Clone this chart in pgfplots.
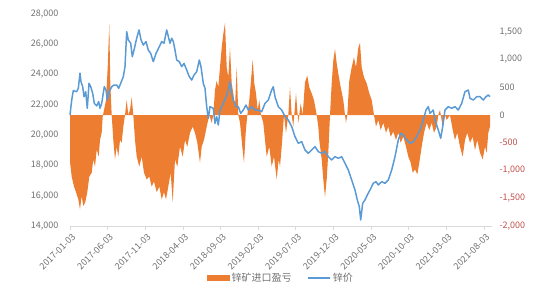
\documentclass[border=0pt]{standalone}
\usepackage{pgfplots}
\pgfplotsset{compat=1.18}
\usepackage{fontspec}
\setmainfont{Noto Sans CJK SC}
\definecolor{zorange}{HTML}{ED7D31}
\definecolor{zblue}{HTML}{5B9BD5}
\definecolor{tickgray}{HTML}{707070}
\definecolor{negred}{HTML}{C0504D}
\definecolor{axgray}{HTML}{D9D9D9}
\begin{document}
\begin{tikzpicture}[x=1pt,y=1pt]
\useasboundingbox (-70,-74) rectangle (480,226);
% right axis: import profit / loss (orange area)
\begin{axis}[at={(0,0)}, anchor=south west, scale only axis,
  width=422pt, height=212pt,
  xmin=0, xmax=422, ymin=-2000, ymax=1820,
  axis x line=none, axis y line*=right,
  y axis line style={draw=none},
  major tick length=0pt,
  ytick={-2000,-1500,-1000,-500,0,500,1000,1500},
  yticklabels={{\textcolor{negred}{-2,000}},{\textcolor{negred}{-1,500}},{\textcolor{negred}{-1,000}},{\textcolor{negred}{-500}},0,500,{1,000},{1,500}},
  yticklabel style={font=\fontsize{9}{10}\selectfont, text=tickgray, anchor=west, xshift=4pt},
  clip=false]
\addplot[fill=zorange, draw=none] coordinates {
(0,0) (0.1,-860) (1.7,-1110) (4,-1290) (6,-1390) (8.3,-1520) (10,-1700) (11.7,-1460)
(13.3,-1640) (15.3,-1570) (17.3,-1390) (19.3,-1110) (21.7,-1040) (23.3,-800) (25,-930)
(26.7,-625) (28.7,-750) (30,-450) (31.7,-320) (32.7,-30) (34,90) (36,270) (37.7,860)
(39.3,1640) (40.3,570) (41.7,0) (43.3,-450) (45,-800) (46.7,-570) (48.3,-750) (50,-450)
(51.7,-500) (53.3,-210) (55,0) (56.7,270) (58.3,0) (60,90) (61.7,320) (63.3,0) (65,-450)
(66.7,-750) (69.3,-930) (71.7,-750) (74,-1040) (76.7,-1160) (79.3,-1110) (81.7,-1290)
(84,-1200) (86.7,-1390) (89.3,-1290) (91.7,-1520) (94,-1390) (96,-1520) (98.3,-1290)
(100.7,-1040) (102.7,-1570) (105,-800) (107.3,-930) (110,-570) (112.7,-750) (115,-450)
(117.3,-570) (120,-320) (122.7,-210) (125,-320) (127.3,-500) (130,-860) (131.7,-570)
(134,-450) (136.7,-210) (139.3,0) (141.7,-140) (143.3,0) (145,450) (146.7,620) (148.3,500)
(150,860) (151.7,1210) (153.3,1460) (155,1660) (156.7,860) (158.3,680) (160,1210)
(161.7,570) (163.3,390) (165,140) (166.7,860) (168.3,0) (170,-140) (172.3,-570) (174,-860)
(175.7,-320) (177.3,0) (179.3,270) (181,620) (182.7,1000) (184.3,570) (186,390) (187.7,90)
(189.3,270) (191,0) (193.3,-140) (195,-450) (196.7,-750) (199.3,-570) (201.7,-930)
(204,-750) (206.7,-1160) (208.7,-800) (210,-930) (211.7,-570) (214,0) (216,-320) (218.3,0)
(220,500) (221.7,0) (223.3,-210) (226,390) (228.3,-140) (230.7,210) (232.7,0) (235,590)
(237.3,710) (239.3,500) (241.7,390) (244,270) (246.7,0) (248.3,-210) (249.3,-450)
(251.7,-800) (253.3,-1160) (255,-1480) (256.7,-1160) (258.3,-680) (260,0) (261.7,570)
(263.3,980) (265,1190) (266.7,930) (268.3,750) (270.7,500) (273.3,270) (275,0) (276,-140)
(277.3,0) (279.3,620) (281.7,860) (284,1040) (286,860) (288.3,1210) (290,1300) (291.7,860)
(294,680) (296.7,570) (299.3,390) (301.7,270) (304,0) (306,-210) (308.3,-90) (310.7,-270)
(313.3,-140) (316,-320) (318.3,-210) (320.7,-390) (323.3,-300) (326,-450) (328.3,-320)
(330.7,-500) (333.3,-390) (336,-570) (338.3,-750) (340.7,-860) (342.7,-1040) (345,-980)
(347.3,-1070) (349.3,-860) (351.7,-570) (354,-320) (356.7,-140) (359.3,-270) (361.7,-140)
(364,-320) (366.7,-210) (368.3,0) (370,90) (372.7,-210) (375,0) (376.7,-90) (380,0)
(382.7,-270) (385,-450) (387.3,-320) (390,-570) (392.7,-750) (395,-450) (397.3,-320)
(400,-500) (402.7,-390) (405,-630) (407.3,-450) (410,-680) (412.7,-800) (415,-570)
(416.7,-680) (418.3,-320) (420,-210) (420,0)
} \closedcycle;
\end{axis}
% left axis: zinc price (blue line)
\begin{axis}[at={(0,0)}, anchor=south west, scale only axis,
  width=422pt, height=212pt,
  xmin=0, xmax=422, ymin=14000, ymax=28000,
  axis x line*=bottom, axis y line*=left,
  y axis line style={draw=none},
  x axis line style={draw=axgray, line width=0.8pt, -},
  ytick={14000,16000,...,28000},
  ytick style={draw=none},
  yticklabel style={font=\fontsize{9}{10}\selectfont, text=tickgray, xshift=-4pt},
  /pgf/number format/.cd, 1000 sep={,}, assume math mode=true, /pgfplots/.cd,
  scaled y ticks=false,
  xtick={0,37.64,75.27,112.91,150.55,188.18,225.82,263.45,301.09,338.73,376.36,414},
  xticklabels={2017-01-03,2017-06-03,2017-11-03,2018-04-03,2018-09-03,2019-02-03,2019-07-03,2019-12-03,2020-05-03,2020-10-03,2021-03-03,2021-08-03},
  x tick style={draw=axgray, line width=0.8pt},
  tick align=outside, major tick length=4pt,
  xticklabel style={font=\fontsize{9}{10}\selectfont, text=tickgray, rotate=45, anchor=north east, inner sep=1pt, yshift=-2pt},
  legend style={at={(0.5,-0.245)}, anchor=center, draw=none, fill=none,
    font=\fontsize{10}{12}\selectfont, text=tickgray, legend columns=2,
    /tikz/every even column/.append style={column sep=14pt}},
  legend cell align=left,
  clip=false]
\addlegendimage{legend image code/.code={\fill[zorange] (0pt,-2.5pt) rectangle (22pt,2.5pt);}}
\addlegendentry{锌矿进口盈亏}
\addplot[color=zblue, line width=1.5pt, line join=round,
  legend image code/.code={\draw[zblue, line width=1.2pt] (0pt,0pt) -- (22pt,0pt);}] coordinates {
(0,21330) (1.7,22320) (3.3,22940) (6.7,22870) (8.3,23090) (10,24090) (11,23530) (12.7,23200)
(14,22540) (15.7,22870) (17.3,21770) (19,23420) (20.7,23200) (22.7,22760) (24.3,22100)
(26.7,21930) (28.7,22210) (30,21770) (31.7,22100) (34.3,23200) (36,22980) (37.3,22320)
(39.3,22870) (41.7,23200) (44,23310) (46.7,23310) (48.7,23090) (50.7,23420) (53.3,23860)
(55,24520) (56.7,26830) (58.3,26290) (60.7,26070) (62.3,25180) (64,25620) (66.7,26400)
(69,26950) (71,26290) (73.3,25950) (76,26180) (78.3,25620) (80.7,25400) (83.3,24850)
(86,25400) (89.3,25840) (91.7,26180) (94,26070) (96.7,26950) (98.3,26510) (100,26070)
(101.7,26400) (103.3,26180) (105,25620) (106.7,24960) (109.3,24850) (111.7,24520)
(114,24740) (116.7,24300) (119.3,23860) (121.7,23640) (124,23970) (126.7,24190)
(129.3,24960) (131,24520) (133.3,23420) (135,23090) (136.7,21880) (138.3,21110)
(140,21880) (143.3,21770) (145,20780) (146.7,21220) (148.3,20670) (150,21660)
(153.3,22100) (156,22540) (158.3,22980) (160,23530) (161.7,22760) (163.3,22320)
(166,21880) (168.3,21880) (170.7,21440) (173.3,21660) (176,21990) (178.3,21660)
(181.7,21880) (185,21660) (188.3,21660) (191.7,21550) (195,22100) (198.3,22320)
(201.7,22980) (203.3,23200) (205,22540) (208.3,21880) (211.7,21660) (215,21220)
(218.3,21000) (221.7,20560) (225,19900) (228.3,19460) (231.7,19570) (235,19020)
(238.3,18800) (241.7,19020) (245,19240) (248.3,18910) (251.7,18800) (255,18910)
(258.3,18580) (261.7,18360) (265,18580) (268.3,18470) (271.7,18580) (275,18140)
(278.3,17700) (281.7,17040) (285,16380) (287.3,15720) (289.3,15280) (290.7,14400)
(292.7,15500) (295,15720) (297.3,16050) (300,16380) (303.3,16820) (306,16930)
(308.3,16710) (311.7,16930) (315,16820) (318.3,17040) (321.7,17700) (325,18580)
(328.3,19680) (330.7,20120) (333.3,20010) (336.7,19680) (340,19460) (343.3,19570)
(346.7,19900) (350,20340) (353.3,21000) (356,21660) (358.3,21880) (360,21440)
(363.3,21660) (365,21000) (368.3,20340) (370.7,19790) (372.7,20560) (375,21660)
(378.3,21880) (381.7,21770) (385,21880) (388.3,21660) (391.7,22100) (395,22870)
(398.3,22980) (400,22430) (403.3,22320) (406.7,22540) (410,22540) (413.3,22320)
(416,22540) (418.3,22650) (420,22540)
};
\addlegendentry{锌价}
\end{axis}
\end{tikzpicture}
\end{document}
